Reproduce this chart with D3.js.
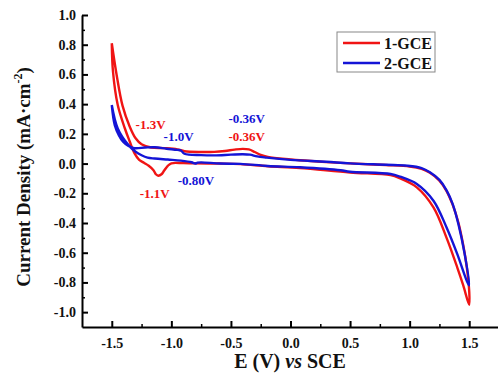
<!DOCTYPE html>
<html>
<head>
<meta charset="utf-8">
<script src="https://cdn.jsdelivr.net/npm/d3@7"></script>
<style>
  body { margin: 0; background: #fff; }
  svg { display: block; font-family: "Liberation Serif", "Times New Roman", serif; font-weight: bold; }
</style>
</head>
<body>
<div id="chart"></div>
<script>
// 1-GCE, forward scan (-1.5 -> 1.5), [E, I]
var red1Forward = [
  [-1.50, 0.81], [-1.46, 0.60], [-1.41, 0.39], [-1.35, 0.25], [-1.30, 0.17],
  [-1.25, 0.13], [-1.17, 0.108], [-1.06, 0.104], [-0.95, 0.096], [-0.89, 0.083],
  [-0.75, 0.078], [-0.64, 0.079], [-0.55, 0.085], [-0.47, 0.094], [-0.40, 0.099],
  [-0.35, 0.095], [-0.30, 0.078], [-0.25, 0.058], [-0.19, 0.045], [0.00, 0.028],
  [0.08, 0.022], [0.30, 0.010], [0.50, 0.001], [0.80, -0.010], [1.00, -0.020],
  [1.10, -0.036], [1.17, -0.062], [1.25, -0.115], [1.31, -0.185], [1.36, -0.275],
  [1.41, -0.400], [1.45, -0.550], [1.48, -0.700], [1.50, -0.860]
];
// 1-GCE, reverse scan (1.5 -> -1.5)
var red1Reverse = [
  [1.50, -0.950], [1.45, -0.820], [1.40, -0.700], [1.31, -0.500], [1.20, -0.295],
  [1.06, -0.160], [0.92, -0.100], [0.84, -0.078], [0.50, -0.060], [0.08, -0.030],
  [-0.19, -0.018], [-0.42, -0.004], [-0.60, 0.000], [-0.81, 0.002], [-0.90, 0.003],
  [-1.00, 0.002], [-1.03, -0.015], [-1.06, -0.047], [-1.08, -0.070], [-1.11, -0.082],
  [-1.13, -0.072], [-1.15, -0.045], [-1.19, -0.015], [-1.23, 0.005], [-1.27, 0.025],
  [-1.31, 0.070], [-1.35, 0.150], [-1.39, 0.236], [-1.45, 0.394], [-1.49, 0.620],
  [-1.50, 0.81]
];
// 2-GCE, forward scan
var blue2Forward = [
  [-1.50, 0.394], [-1.475, 0.259], [-1.44, 0.190], [-1.405, 0.147], [-1.36, 0.118],
  [-1.31, 0.104], [-1.22, 0.108], [-1.14, 0.110], [-1.04, 0.100], [-0.95, 0.092],
  [-0.92, 0.088], [-0.89, 0.066], [-0.75, 0.057], [-0.64, 0.055], [-0.50, 0.060],
  [-0.40, 0.063], [-0.34, 0.060], [-0.28, 0.048], [-0.20, 0.040], [0.00, 0.025],
  [0.30, 0.012], [0.50, 0.001], [0.80, -0.008], [0.98, -0.014], [1.10, -0.030],
  [1.17, -0.059], [1.25, -0.110], [1.31, -0.180], [1.36, -0.270], [1.41, -0.410],
  [1.46, -0.600], [1.50, -0.820]
];
// 2-GCE, reverse scan
var blue2Reverse = [
  [1.50, -0.820], [1.48, -0.790], [1.40, -0.610], [1.31, -0.430], [1.20, -0.250],
  [1.06, -0.137], [0.92, -0.088], [0.84, -0.070], [0.50, -0.055], [0.42, -0.045],
  [0.08, -0.025], [-0.19, -0.016], [-0.42, -0.002], [-0.59, 0.000], [-0.75, 0.008],
  [-0.78, 0.006], [-0.80, 0.000], [-0.83, 0.009], [-0.92, 0.020], [-1.03, 0.027],
  [-1.14, 0.034], [-1.20, 0.040], [-1.25, 0.056], [-1.30, 0.080], [-1.36, 0.124],
  [-1.45, 0.236], [-1.50, 0.394]
];

var seriesNames = ['1-GCE', '2-GCE'];
var seriesColors = ['#f01414', '#1414d6'];

var xTicks = [-1.5, -1.0, -0.5, 0.0, 0.5, 1.0, 1.5];
var xMinorTicks = [-1.25, -0.75, -0.25, 0.25, 0.75, 1.25];
var yTicks = [-1.0, -0.8, -0.6, -0.4, -0.2, 0.0, 0.2, 0.4, 0.6, 0.8, 1.0];
var yMinorTicks = [-0.9, -0.7, -0.5, -0.3, -0.1, 0.1, 0.3, 0.5, 0.7, 0.9];

// peak labels, anchored in data units
var peakLabels = [
  {text: '-1.3V', series: 0, e: -1.30, i: 0.236},
  {text: '-1.0V', series: 1, e: -1.065, i: 0.155},
  {text: '-0.36V', series: 1, e: -0.52, i: 0.274},
  {text: '-0.36V', series: 0, e: -0.52, i: 0.149},
  {text: '-0.80V', series: 1, e: -0.947, i: -0.142},
  {text: '-1.1V', series: 0, e: -1.266, i: -0.230}
];

var width = 498;
var height = 379;

var x = d3.scaleLinear().domain([-1.75, 1.75]).range([82, 499]);
var y = d3.scaleLinear().domain([-1.1, 1.0]).range([327, 15]);

var svg = d3.select('#chart').append('svg')
    .attr('width', width)
    .attr('height', height);

var fmt = function (d) { return d.toFixed(1); };

// Minor ticks first (no labels)
svg.append('g')
  .attr('transform', 'translate(0,' + y(-1.1) + ')')
  .call(d3.axisBottom(x).tickValues(xMinorTicks).tickSize(-3).tickSizeOuter(0).tickFormat(''))
  .call(function (g) { g.select('.domain').remove(); })
  .selectAll('line').attr('stroke-width', 1.5);

svg.append('g')
  .attr('transform', 'translate(' + x(-1.75) + ',0)')
  .call(d3.axisLeft(y).tickValues(yMinorTicks).tickSize(-3).tickSizeOuter(0).tickFormat(''))
  .call(function (g) { g.select('.domain').remove(); })
  .selectAll('line').attr('stroke-width', 1.5);

// X axis
var xAxis = svg.append('g')
  .attr('transform', 'translate(0,' + y(-1.1) + ')')
  .call(d3.axisBottom(x).tickValues(xTicks).tickSize(-6).tickSizeOuter(0)
        .tickPadding(11).tickFormat(fmt));
xAxis.select('.domain').attr('stroke-width', 2);
xAxis.selectAll('line').attr('stroke-width', 2);
xAxis.selectAll('text')
  .style('font-family', '"Liberation Serif", serif')
  .style('font-weight', 'bold')
  .style('font-size', '14px')
  .attr('fill', '#111');

// Y axis
var yAxis = svg.append('g')
  .attr('transform', 'translate(' + x(-1.75) + ',0)')
  .call(d3.axisLeft(y).tickValues(yTicks).tickSize(-6).tickSizeOuter(0)
        .tickPadding(6).tickFormat(fmt));
yAxis.select('.domain').attr('stroke-width', 2);
yAxis.selectAll('line').attr('stroke-width', 2);
yAxis.selectAll('text')
  .style('font-family', '"Liberation Serif", serif')
  .style('font-weight', 'bold')
  .style('font-size', '14px')
  .attr('fill', '#111');

// Axis titles
var xTitle = svg.append('text')
  .attr('x', 290)
  .attr('y', 368)
  .attr('text-anchor', 'middle')
  .style('font-size', '20px')
  .attr('fill', '#111');
xTitle.append('tspan').text('E (V) ');
xTitle.append('tspan').style('font-style', 'italic').text('vs');
xTitle.append('tspan').text(' SCE');

var yTitle = svg.append('text')
  .attr('transform', 'translate(30,' + 177 + ') rotate(-90)')
  .attr('text-anchor', 'middle')
  .style('font-size', '19px')
  .attr('fill', '#111');
yTitle.append('tspan').text('Current Density (mA\u00b7cm');
yTitle.append('tspan').attr('dy', -8).style('font-size', '12px').text('-2');
yTitle.append('tspan').attr('dy', 8).text(')');

// Curves
var line = d3.line()
    .curve(d3.curveCatmullRom.alpha(0.5))
    .x(function (d) { return x(d[0]); })
    .y(function (d) { return y(d[1]); });

// join forward and reverse scans, dropping repeated turn points
function loop(fwd, rev) {
  return fwd.concat(rev).filter(function (p, i, a) {
    return i === 0 || p[0] !== a[i - 1][0] || p[1] !== a[i - 1][1];
  });
}

var curves = [
  loop(red1Forward, red1Reverse),
  loop(blue2Forward, blue2Reverse)
];

svg.selectAll('.cv')
  .data(curves)
  .enter()
  .append('path')
  .attr('class', 'cv')
  .attr('fill', 'none')
  .attr('stroke', function (d, i) { return seriesColors[i]; })
  .attr('stroke-width', 2.4)
  .attr('stroke-linejoin', 'round')
  .attr('d', line);

// Peak labels
svg.selectAll('.peak')
  .data(peakLabels)
  .enter()
  .append('text')
  .attr('class', 'peak')
  .attr('x', function (d) { return x(d.e); })
  .attr('y', function (d) { return y(d.i); })
  .attr('fill', function (d) { return seriesColors[d.series]; })
  .style('font-size', '13px')
  .text(function (d) { return d.text; });

// Legend
var legend = svg.append('g').attr('transform', 'translate(337,32)');
legend.append('rect')
  .attr('width', 98)
  .attr('height', 40)
  .attr('fill', '#fff')
  .attr('stroke', '#888')
  .attr('stroke-width', 1);

var item = legend.selectAll('.item')
  .data(seriesNames)
  .enter()
  .append('g')
  .attr('class', 'item')
  .attr('transform', function (d, i) { return 'translate(0,' + (11 + i * 20) + ')'; });

item.append('line')
  .attr('x1', 6).attr('x2', 43)
  .attr('stroke', function (d, i) { return seriesColors[i]; })
  .attr('stroke-width', 2.4);

item.append('text')
  .attr('x', 47)
  .attr('dy', '0.35em')
  .style('font-size', '16px')
  .attr('fill', '#111')
  .text(function (d) { return d; });
</script>
</body>
</html>
